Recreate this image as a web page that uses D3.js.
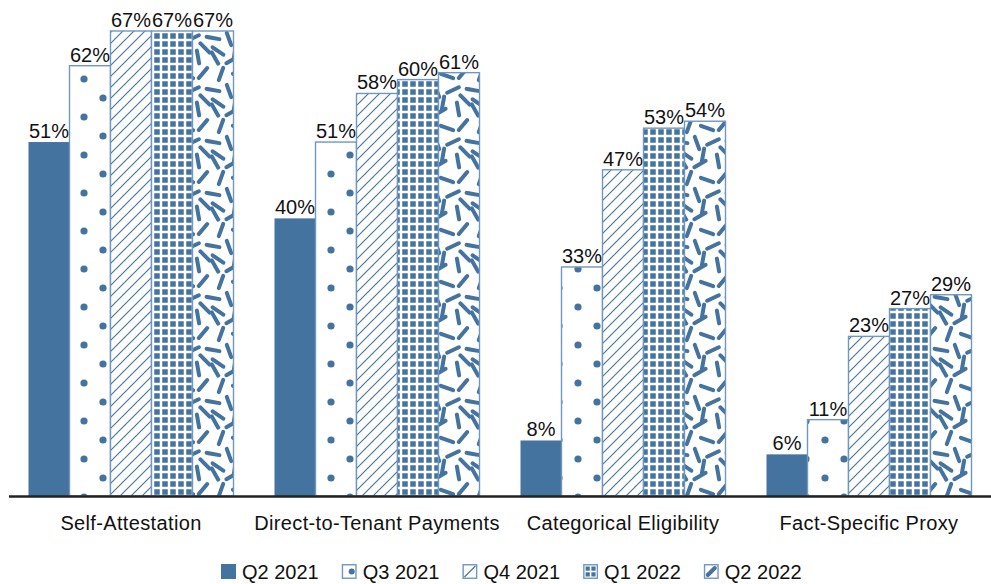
<!DOCTYPE html>
<html>
<head>
<meta charset="utf-8">
<script src="https://cdn.jsdelivr.net/npm/d3@7"></script>
<style>
  body { margin: 0; background: #fff; }
  svg { display: block; }
  text { font-family: "Liberation Sans", Arial, Helvetica, sans-serif; fill: #111; }
</style>
</head>
<body>
<svg id="chart" width="991" height="584"></svg>
<script>
const categories = ["Self-Attestation", "Direct-to-Tenant Payments", "Categorical Eligibility", "Fact-Specific Proxy"];
const seriesNames = ["Q2 2021", "Q3 2021", "Q4 2021", "Q1 2022", "Q2 2022"];
const q2_2021 = [51, 40, 8, 6];
const q3_2021 = [62, 51, 33, 11];
const q4_2021 = [67, 58, 47, 23];
const q1_2022 = [67, 60, 53, 27];
const q2_2022 = [67, 61, 54, 29];
const seriesValues = [q2_2021, q3_2021, q4_2021, q1_2022, q2_2022];

const BLUE = "#44739f";
const EDGE = "#7197c0";

const svg = d3.select("#chart");
const defs = svg.append("defs");

// Pattern: dots
const pDots = defs.append("pattern").attr("id", "p1").attr("patternUnits", "userSpaceOnUse")
  .attr("width", 38).attr("height", 38).attr("x", 8).attr("y", 3);
pDots.append("rect").attr("width", 38).attr("height", 38).attr("fill", "#fff");
[[0,0],[38,0],[0,38],[38,38],[19,19]].forEach(([cx, cy]) =>
  pDots.append("circle").attr("cx", cx).attr("cy", cy).attr("r", 3.6).attr("fill", BLUE));

// Pattern: diagonal hatch
const pHatch = defs.append("pattern").attr("id", "p2").attr("patternUnits", "userSpaceOnUse")
  .attr("width", 11).attr("height", 11);
pHatch.append("rect").attr("width", 11).attr("height", 11).attr("fill", "#fff");
pHatch.append("path").attr("d", "M-1,12 L12,-1 M-3,3 L3,-3 M8,14 L14,8")
  .attr("stroke", BLUE).attr("stroke-width", 1.1);

// Pattern: grid
const pGrid = defs.append("pattern").attr("id", "p3").attr("patternUnits", "userSpaceOnUse")
  .attr("width", 8).attr("height", 8).attr("x", 1).attr("y", 0);
pGrid.append("rect").attr("width", 8).attr("height", 8).attr("fill", "#fff");
pGrid.append("rect").attr("x", 1.25).attr("y", 1.25).attr("width", 5.5).attr("height", 5.5).attr("fill", BLUE);

// Pattern: random dashes
const T = 52;
const pDash = defs.append("pattern").attr("id", "p4").attr("patternUnits", "userSpaceOnUse")
  .attr("width", T).attr("height", T);
pDash.append("rect").attr("width", T).attr("height", T).attr("fill", "#fff");
const dashes = [[7,6,60],[24,8,-30],[42,5,80],[13,22,-70],[31,24,20],[47,21,-50],
                [5,38,10],[21,39,70],[37,38,-25],[49,48,45],[27,51,-80],[10,51,35]];
const L = 6.5;
dashes.forEach(([cx, cy, a]) => {
  const r = a * Math.PI / 180, dx = Math.cos(r) * L, dy = Math.sin(r) * L;
  [-T, 0, T].forEach(ox => [-T, 0, T].forEach(oy => {
    pDash.append("line")
      .attr("x1", cx + ox - dx).attr("y1", cy + oy - dy)
      .attr("x2", cx + ox + dx).attr("y2", cy + oy + dy)
      .attr("stroke", BLUE).attr("stroke-width", 4).attr("stroke-linecap", "round");
  }));
});

const fills = [BLUE, "url(#p1)", "url(#p2)", "url(#p3)", "url(#p4)"];

const baseY = 496;
const x0 = d3.scaleBand().domain(categories).range([8, 992]).paddingInner(1/6).paddingOuter(1/12);
const x1 = d3.scaleBand().domain(seriesNames).range([0, x0.bandwidth()]);
const y = d3.scaleLinear().domain([0, d3.max(seriesValues.flat())]).range([baseY, 31]);

const data = [];
categories.forEach((c, ci) => seriesNames.forEach((s, si) =>
  data.push({ cat: c, series: s, si, value: seriesValues[si][ci] })));

const bars = svg.append("g");
bars.selectAll("rect").data(data).join("rect")
  .attr("x", d => x0(d.cat) + x1(d.series))
  .attr("y", d => y(d.value))
  .attr("width", x1.bandwidth())
  .attr("height", d => baseY - y(d.value))
  .attr("fill", d => fills[d.si])
  .attr("stroke", d => d.si === 0 ? "none" : EDGE)
  .attr("stroke-width", 1.4);

svg.append("g").selectAll("text").data(data).join("text")
  .attr("x", d => x0(d.cat) + x1(d.series) + x1.bandwidth() / 2)
  .attr("y", d => y(d.value) - 4)
  .attr("text-anchor", "middle")
  .attr("font-size", 20)
  .text(d => d.value + "%");

// Baseline axis
const xAxis = d3.axisBottom(x0).tickSize(0).tickPadding(20);
const ax = svg.append("g").attr("transform", `translate(0,${baseY})`).call(xAxis);
ax.select(".domain").remove();
ax.selectAll("text").attr("font-size", 20).attr("letter-spacing", 0.35)
  .attr("fill", "#111").style("font-family", '"Liberation Sans", Arial, sans-serif');
svg.append("line").attr("x1", 9).attr("x2", 991).attr("y1", baseY + 0.5).attr("y2", baseY + 0.5)
  .attr("stroke", "#222").attr("stroke-width", 2.4);

// Legend
const legend = svg.append("g");
seriesNames.forEach((s, i) => {
  const lx = 221 + i * 120.7, ly = 564;
  const g = legend.append("g").attr("transform", `translate(${lx},${ly})`);
  if (i === 0) {
    g.append("rect").attr("width", 15).attr("height", 15).attr("fill", BLUE);
  } else {
    g.append("rect").attr("x", 0.75).attr("y", 0.75).attr("width", 13.5).attr("height", 13.5)
      .attr("fill", "#fff").attr("stroke", EDGE).attr("stroke-width", 1.4);
    if (i === 1) g.append("circle").attr("cx", 10).attr("cy", 7.5).attr("r", 3).attr("fill", BLUE);
    if (i === 2) g.append("line").attr("x1", 2).attr("y1", 13).attr("x2", 13).attr("y2", 2)
      .attr("stroke", BLUE).attr("stroke-width", 1.1);
    if (i === 3) [[2.5,2.5],[8.3,2.5],[2.5,8.3],[8.3,8.3]].forEach(([a, b]) =>
      g.append("rect").attr("x", a).attr("y", b).attr("width", 4.2).attr("height", 4.2).attr("fill", BLUE));
    if (i === 4) g.append("line").attr("x1", 4).attr("y1", 11).attr("x2", 11).attr("y2", 4)
      .attr("stroke", BLUE).attr("stroke-width", 4).attr("stroke-linecap", "round");
  }
  g.append("text").attr("x", 21).attr("y", 14.5).attr("font-size", 20).text(s);
});
</script>
</body>
</html>
